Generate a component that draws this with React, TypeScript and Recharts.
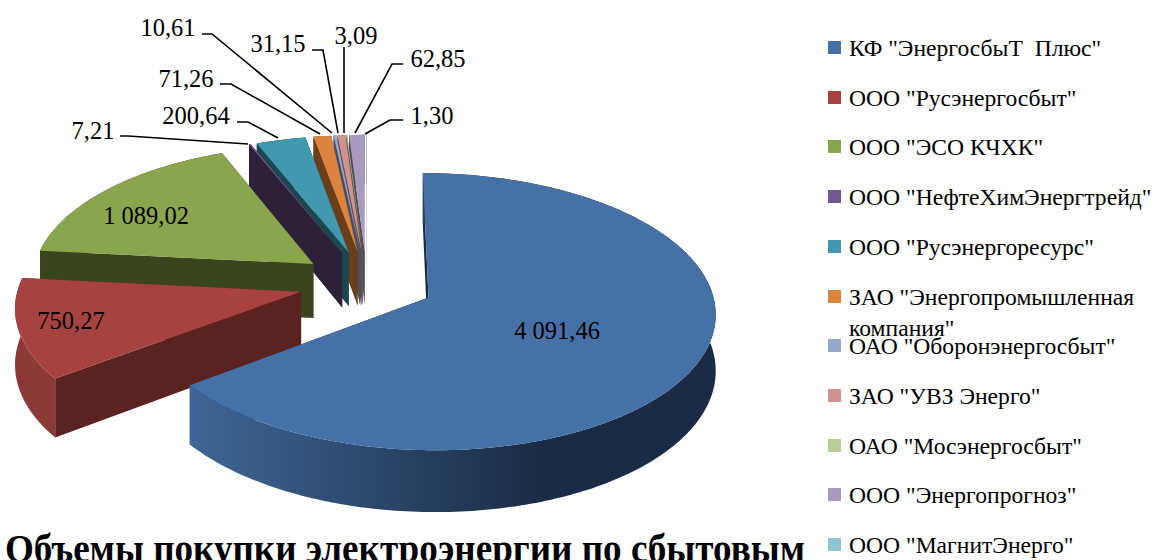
import { PieChart, Pie, Legend } from 'recharts';

const companies = [
  'КФ "ЭнергосбыТ  Плюс"',
  'ООО "Русэнергосбыт"',
  'ООО "ЭСО КЧХК"',
  'ООО "НефтеХимЭнергтрейд"',
  'ООО "Русэнергоресурс"',
  'ЗАО "Энергопромышленная компания"',
  'ОАО "Оборонэнергосбыт"',
  'ЗАО "УВЗ Энерго"',
  'ОАО "Мосэнергосбыт"',
  'ООО "Энергопрогноз"',
  'ООО "МагнитЭнерго"',
];
const volumes = [4091.46, 750.27, 1089.02, 7.21, 200.64, 71.26, 10.61, 31.15, 3.09, 62.85, 1.3];
const topColors = ['#4671a6', '#a64340', '#89a54e', '#71588f', '#4198af', '#db843d', '#93a9cf', '#d19392', '#b9cd96', '#a99bbd', '#92c3d5'];
const edgeColors = ['#1a2c45', '#5a2321', '#3a451f', '#2d2138', '#1c4650', '#6b3d18', '#46506a', '#6a4a4a', '#556048', '#4f4a5a', '#46606a'];
const wallColors = ['#3f6696', '#8c3a38', '#3a451f', '#2d2138', '#1c4650', '#6b3d18', '#46506a', '#6a4a4a', '#556048', '#4f4a5a', '#46606a'];
const title = 'Объемы покупки электроэнергии по сбытовым';

// where the value labels sit; leader is [start, elbow, end] when the label is outside the pie
type LabelSpot = { x: number; y: number; leader?: number[][] };
const labelSpots: LabelSpot[] = [
  { x: 557, y: 330 },
  { x: 71, y: 320 },
  { x: 146, y: 215 },
  { x: 93, y: 130, leader: [[120, 136], [128, 136], [248, 144]] },
  { x: 196, y: 115, leader: [[237, 122], [248, 122], [278, 138]] },
  { x: 186, y: 78, leader: [[220, 84], [231, 84], [320, 134]] },
  { x: 168, y: 27, leader: [[202, 34], [212, 34], [332, 133]] },
  { x: 278, y: 43, leader: [[312, 50], [323, 50], [338, 133]] },
  { x: 356, y: 35, leader: [[344, 47], [344, 47], [344, 133]] },
  { x: 438, y: 58, leader: [[403, 64], [392, 64], [355, 133]] },
  { x: 432, y: 115, leader: [[403, 120], [390, 120], [365, 134]] },
];

const tableData = companies
  .map((name, i) => ({ name, value: volumes[i], index: i }))
  .reverse();

const CHART_W = 1157;
const CHART_H = 560;
const RADIUS = 282;
const EXPLODE = 68;
const SQUASH = 0.476;
const PERSPECTIVE = 0.1;
const DEPTH = 55;
const RAD = Math.PI / 180;

const formatValue = (v: number) => {
  const [whole, frac] = v.toFixed(2).split('.');
  return `${whole.replace(/\B(?=(\d{3})+$)/g, ' ')},${frac}`;
};

// disc coordinates -> screen, tilted with a little perspective
const project = (cx: number, cy: number, X: number, Y: number, drop = 0) => {
  const w = 1 / (1 - (PERSPECTIVE * Y) / RADIUS);
  return [cx + X * w, cy + SQUASH * Y * w + drop * w];
};

const toPath = (pts: number[][]) =>
  `M${pts.map((p) => `${p[0].toFixed(1)},${p[1].toFixed(1)}`).join('L')}Z`;

const Slice3D = (props: any) => {
  const { cx, cy, startAngle, endAngle, payload } = props;
  const i = payload.index;
  const mid = ((startAngle + endAngle) / 2) * RAD;
  const ox = Math.cos(mid) * EXPLODE;
  const oy = -Math.sin(mid) * EXPLODE;
  const steps = Math.max(2, Math.ceil(Math.abs(endAngle - startAngle)));
  const discArc: number[][] = [];
  for (let s = 0; s <= steps; s++) {
    const a = (startAngle + ((endAngle - startAngle) * s) / steps) * RAD;
    discArc.push([ox + Math.cos(a) * RADIUS, oy - Math.sin(a) * RADIUS]);
  }
  const top = discArc.map(([X, Y]) => project(cx, cy, X, Y));
  const bottom = discArc.map(([X, Y]) => project(cx, cy, X, Y, DEPTH));
  const apexTop = project(cx, cy, ox, oy);
  const apexBottom = project(cx, cy, ox, oy, DEPTH);
  const last = top.length - 1;
  const gradId = `wall-${i}`;
  return (
    <g>
      <defs>
        <linearGradient id={gradId} gradientUnits="userSpaceOnUse" x1={190} x2={540} y1={0} y2={0}>
          <stop offset="0" stopColor={wallColors[i]} />
          <stop offset="1" stopColor={i === 0 ? '#1a2c45' : wallColors[i]} />
        </linearGradient>
      </defs>
      <path d={toPath([apexTop, top[0], bottom[0], apexBottom])} fill={edgeColors[i]} />
      <path d={toPath([apexTop, top[last], bottom[last], apexBottom])} fill={edgeColors[i]} />
      <path d={toPath([...top, ...[...bottom].reverse()])} fill={`url(#${gradId})`} />
      <path d={toPath([apexTop, ...top])} fill={topColors[i]} />
    </g>
  );
};

const renderValueLabel = (props: any) => {
  const i = props.payload?.index ?? props.index;
  const spot = labelSpots[i];
  return (
    <g key={i}>
      {spot.leader && (
        <polyline
          points={spot.leader.map((p) => p.join(',')).join(' ')}
          fill="none"
          stroke="#000"
          strokeWidth={1.6}
        />
      )}
      <text
        x={spot.x}
        y={spot.y}
        textAnchor="middle"
        dominantBaseline="central"
        fontFamily="Liberation Serif"
        fontSize={24.5}
        fill="#000"
      >
        {formatValue(volumes[i])}
      </text>
    </g>
  );
};

const legendContent = () => (
  <div style={{ position: 'relative', width: 328, height: 560, fontFamily: 'Liberation Serif', fontSize: 23.6, color: '#000', whiteSpace: 'pre-wrap' }}>
    {companies.map((name, i) => (
      <div key={name} style={{ position: 'absolute', top: 23 + i * 49.7, left: 0, width: 328, height: 50 }}>
        <span style={{ position: 'absolute', left: 0, top: 18, width: 13, height: 13, background: topColors[i] }} />
        <span style={{ position: 'absolute', left: 21, top: 10, width: 306, lineHeight: '31px' }}>{name}</span>
      </div>
    ))}
  </div>
);

export default function App() {
  return (
    <div style={{ position: 'absolute', left: 0, top: 0, width: CHART_W, height: CHART_H, overflow: 'hidden', background: '#fff' }}>
      <PieChart width={CHART_W} height={CHART_H} margin={{ top: 0, right: 0, bottom: 0, left: 0 }}>
        <Pie
          data={tableData}
          dataKey="value"
          nameKey="name"
          cx={367}
          cy={283}
          outerRadius={RADIUS}
          startAngle={90}
          endAngle={450}
          stroke="none"
          shape={Slice3D}
          label={renderValueLabel}
          labelLine={false}
          isAnimationActive={false}
        />
        <Legend
          content={legendContent}
          layout="vertical"
          wrapperStyle={{ position: 'absolute', left: 828, top: 0, width: 328, height: 560 }}
        />
        <text
          x={5}
          y={562}
          fontFamily="Liberation Serif"
          fontWeight="bold"
          fontSize={41}
          textLength={800}
          lengthAdjust="spacingAndGlyphs"
          fill="#000"
        >
          {title}
        </text>
      </PieChart>
    </div>
  );
}
